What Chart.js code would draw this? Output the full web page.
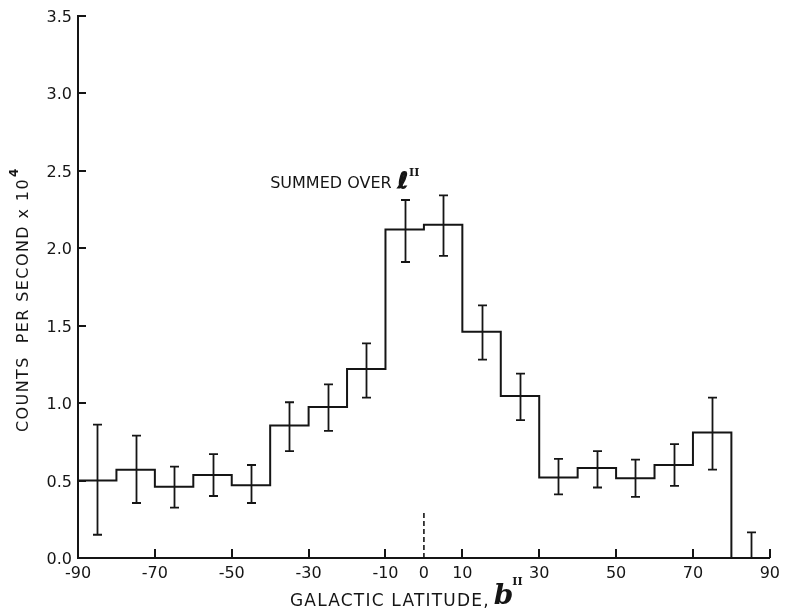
<!DOCTYPE html>
<html><head><meta charset="utf-8">
<script src="https://cdn.jsdelivr.net/npm/chart.js@4.4.0/dist/chart.umd.min.js"></script>
<style>html,body{margin:0;padding:0;background:#fff;} canvas{display:block;}</style>
</head><body>
<canvas id="c" width="786" height="615"></canvas>
<script>
// ---- data ----
const binStarts = [-90,-80,-70,-60,-50,-40,-30,-20,-10,0,10,20,30,40,50,60,70,80];
const binWidth = 10;
const counts    = [0.50,0.57,0.46,0.535,0.47,0.855,0.975,1.22,2.12,2.15,1.46,1.045,0.52,0.58,0.515,0.60,0.81,0.0];
const errTop    = [0.86,0.79,0.59,0.67,0.60,1.005,1.12,1.385,2.31,2.34,1.63,1.19,0.64,0.69,0.635,0.735,1.035,0.165];
const errBottom = [0.15,0.355,0.325,0.40,0.355,0.69,0.82,1.035,1.91,1.95,1.28,0.89,0.41,0.455,0.395,0.465,0.57,0.0];
const xTickValues = [-90,-70,-50,-30,-10,0,10,30,50,70,90];
const yTickValues = [0,0.5,1.0,1.5,2.0,2.5,3.0,3.5];
const planeMarker = {x:0, top:0.29};
const annotation = {text:'SUMMED OVER', x:-40, y:2.39};
const xTitle = 'GALACTIC LATITUDE,';
const yTitle = 'COUNTS  PER SECOND x 10';

const INK = '#151515';

const histPoints = binStarts.map((x,i)=>({x:x, y:counts[i]}));
histPoints.push({x: binStarts[binStarts.length-1] + binWidth, y: counts[counts.length-1]});

function drawRich(ctx, parts, x, y){
  let cx = x;
  for (const p of parts){
    ctx.font = p.font;
    ctx.letterSpacing = (p.spacing||0) + 'px';
    const tx = cx + (p.dx||0), ty = y + (p.dy||0);
    ctx.fillText(p.text, tx, ty);
    if (p.stroke){ ctx.lineWidth = p.stroke; ctx.strokeStyle = INK; ctx.strokeText(p.text, tx, ty); }
    cx += ctx.measureText(p.text).width + (p.dx||0) + (p.after||0);
  }
  ctx.letterSpacing = '0px';
}

const decor = {
  id:'decor',
  afterDatasetsDraw(chart){
    const {ctx, scales:{x, y}, chartArea} = chart;
    ctx.save();
    ctx.strokeStyle = INK; ctx.lineWidth = 1.8; ctx.lineCap = 'butt';
    // error bars
    for (let i=0;i<binStarts.length;i++){
      const cx = Math.round(x.getPixelForValue(binStarts[i] + binWidth/2)) + 0.5;
      const yt = y.getPixelForValue(errTop[i]);
      const yb = y.getPixelForValue(errBottom[i]);
      ctx.beginPath();
      ctx.moveTo(cx, yt); ctx.lineTo(cx, yb);
      ctx.moveTo(cx-4.5, yt); ctx.lineTo(cx+4.5, yt);
      if (errBottom[i] > 0){ ctx.moveTo(cx-4.5, yb); ctx.lineTo(cx+4.5, yb); }
      ctx.stroke();
    }
    // inward tick marks
    ctx.lineWidth = 2;
    ctx.beginPath();
    for (const v of xTickValues){
      if (v === xTickValues[0] || v === planeMarker.x) continue;
      const px = Math.round(x.getPixelForValue(v));
      ctx.moveTo(px, chartArea.bottom); ctx.lineTo(px, chartArea.bottom - 9);
    }
    for (const v of yTickValues){
      if (v === 0) continue;
      const py = Math.round(y.getPixelForValue(v));
      ctx.moveTo(chartArea.left, py); ctx.lineTo(chartArea.left + 8, py);
    }
    ctx.stroke();
    ctx.restore();
  },
  afterDraw(chart){
    const {ctx, scales:{x, y}, chartArea} = chart;
    ctx.save();
    ctx.fillStyle = INK;
    ctx.textAlign = 'left'; ctx.textBaseline = 'alphabetic';
    // annotation
    drawRich(ctx, [
      {text: annotation.text, font:'16px "DejaVu Sans"', after:6, spacing:0},
      {text:'\u2113', font:'italic bold 22px "DejaVu Sans"', after:1, stroke:1.2},
      {text:'II', font:'bold 11px "DejaVu Serif"', dy:-12}
    ], x.getPixelForValue(annotation.x), y.getPixelForValue(annotation.y));
    // x title
    drawRich(ctx, [
      {text: xTitle, font:'17px "DejaVu Sans"', spacing:1.2, after:4},
      {text:'b', font:'italic bold 28px "DejaVu Serif"', after:-1, dy:-2},
      {text:'II', font:'bold 11px "DejaVu Serif"', dy:-21}
    ], chartArea.left + 212, 606);
    // y title (rotated)
    ctx.translate(28, 432);
    ctx.rotate(-Math.PI/2);
    drawRich(ctx, [
      {text: yTitle, font:'16px "DejaVu Sans"', spacing:1.4, after:1},
      {text:'4', font:'bold 12px "DejaVu Sans"', dy:-10}
    ], 0, 0);
    ctx.restore();
  }
};

new Chart(document.getElementById('c'), {
  type:'line',
  data:{
    datasets:[
      {
        label:'Counts', data: histPoints, stepped:'before',
        borderColor: INK, borderWidth: 2, pointRadius: 0, fill:false, clip:false
      },
      {
        label:'Plane', data:[{x:planeMarker.x, y:0},{x:planeMarker.x, y:planeMarker.top}],
        borderColor: INK, borderWidth: 1.6, borderDash:[5,3], pointRadius:0, fill:false
      }
    ]
  },
  options:{
    responsive:false, animation:false, devicePixelRatio:1,
    layout:{padding:{top:15, right:13, left:0, bottom:0}},
    plugins:{legend:{display:false}, tooltip:{enabled:false}, title:{display:false}},
    scales:{
      x:{
        type:'linear', min:-90, max:90,
        afterBuildTicks(scale){ scale.ticks = xTickValues.map(v=>({value:v})); },
        afterFit(scale){ scale.height = 57; },
        grid:{display:false, drawTicks:false},
        border:{display:true, color:INK, width:2},
        ticks:{color:INK, font:{family:'"DejaVu Sans"', size:16}, padding:6, autoSkip:false, maxRotation:0,
               callback:(v)=>String(v)}
      },
      y:{
        type:'linear', min:0, max:3.5,
        afterBuildTicks(scale){ scale.ticks = yTickValues.map(v=>({value:v})); },
        afterFit(scale){ scale.width = 78; },
        grid:{display:false, drawTicks:false},
        border:{display:true, color:INK, width:2},
        ticks:{color:INK, font:{family:'"DejaVu Sans"', size:16}, padding:6, labelOffset:2,
               callback:(v)=>Number(v).toFixed(1)}
      }
    }
  },
  plugins:[decor]
});
</script>
</body></html>
